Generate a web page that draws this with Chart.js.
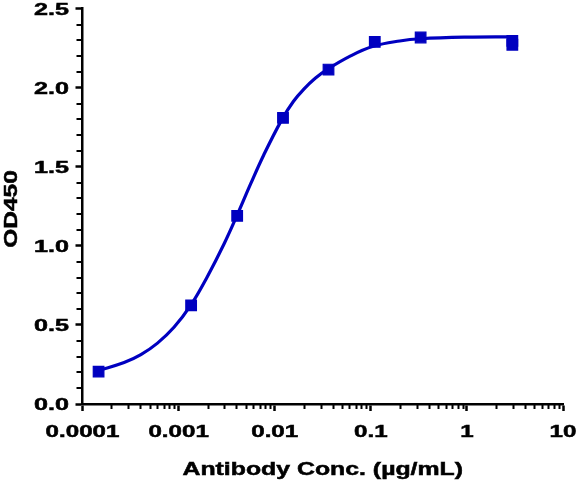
<!DOCTYPE html>
<html>
<head>
<meta charset="utf-8">
<script src="https://cdn.jsdelivr.net/npm/chart.js@4.4.1/dist/chart.umd.min.js"></script>
<style>
  html, body { margin: 0; padding: 0; background: #fff; }
  #wrap { width: 577px; height: 482px; }
</style>
</head>
<body>
<div id="wrap"><canvas id="chart"></canvas></div>
<script>
// measured points (conc in µg/mL, OD450)
const concPoints = [0.000147, 0.00135, 0.00407, 0.0122, 0.0363, 0.110, 0.330, 2.97, 2.97];
const odPoints = [0.205, 0.624, 1.19, 1.81, 2.115, 2.29, 2.318, 2.297, 2.272];

// fitted curve
const concCurve = [0.000147, 0.000271, 0.000405, 0.000603, 0.000895, 0.00134, 0.00199, 0.00296,
  0.00407, 0.0056, 0.00769, 0.0119, 0.0157, 0.020, 0.0264, 0.035, 0.061, 0.106, 0.20, 0.33, 0.99, 2.97];
const odCurve = [0.212, 0.262, 0.312, 0.385, 0.485, 0.625, 0.805, 1.01,
  1.195, 1.39, 1.575, 1.80, 1.915, 1.99, 2.06, 2.115, 2.20, 2.262, 2.296, 2.31, 2.32, 2.322];

const xTickValues = [0.0001, 0.001, 0.01, 0.1, 1, 10];
const xTickLabels = ['0.0001', '0.001', '0.01', '0.1', '1', '10'];
const yTickValues = [0, 0.5, 1, 1.5, 2, 2.5];
const yTickLabels = ['0.0', '0.5', '1.0', '1.5', '2.0', '2.5'];
const yMinorStep = 0.1;

const xTitle = 'Antibody Conc. (µg/mL)';
const yTitle = 'OD450';

const BLUE = '#0000C0';
const FONT_FAMILY = '"Liberation Sans", Arial, sans-serif';

// draws text stretched wide (and a touch heavier), like the original bold Prism font
function wideText(ctx, text, x, y, align, sx, rotate) {
  ctx.save();
  ctx.translate(x, y);
  if (rotate) ctx.rotate(-Math.PI / 2);
  ctx.scale(sx, 1);
  ctx.textAlign = align;
  ctx.textBaseline = 'alphabetic';
  ctx.fillText(text, 0, 0);
  ctx.lineWidth = 0.5;
  ctx.strokeText(text, 0, 0);
  ctx.restore();
}

const axisText = {
  id: 'axisText',
  afterDraw(chart) {
    const { ctx, chartArea, scales } = chart;
    const xs = scales.x, ys = scales.y;
    ctx.save();
    ctx.fillStyle = '#000';
    ctx.strokeStyle = '#000';

    // minor ticks
    ctx.lineWidth = 2;
    ctx.beginPath();
    for (let d = -4; d < 1; d++) {
      for (let k = 2; k <= 9; k++) {
        const px = Math.round(xs.getPixelForValue(k * Math.pow(10, d))) + 0.5;
        ctx.moveTo(px, chartArea.bottom);
        ctx.lineTo(px, chartArea.bottom + 5);
      }
    }
    for (let v = yMinorStep; v < 2.5; v += yMinorStep) {
      if (Math.abs(v / 0.5 - Math.round(v / 0.5)) < 1e-6) continue;
      const py = Math.round(ys.getPixelForValue(v));
      ctx.moveTo(chartArea.left, py);
      ctx.lineTo(chartArea.left - 6, py);
    }
    ctx.stroke();

    // tick labels
    ctx.font = 'bold 17px ' + FONT_FAMILY;
    xTickValues.forEach((v, i) => {
      wideText(ctx, xTickLabels[i], xs.getPixelForValue(v), 437, 'center', 1.42);
    });
    yTickValues.forEach((v, i) => {
      wideText(ctx, yTickLabels[i], 69, ys.getPixelForValue(v) + 6, 'right', 1.48);
    });

    // axis titles
    ctx.font = 'bold 18px ' + FONT_FAMILY;
    wideText(ctx, xTitle, (chartArea.left + chartArea.right) / 2, 475, 'center', 1.38);
    wideText(ctx, yTitle, 17, 209, 'center', 1.36, true);
    ctx.restore();
  }
};

const pointData = concPoints.map((x, i) => ({ x, y: odPoints[i] }));
const curveData = concCurve.map((x, i) => ({ x, y: odCurve[i] }));

new Chart(document.getElementById('chart'), {
  type: 'scatter',
  data: {
    datasets: [
      {
        label: 'OD450',
        data: pointData,
        showLine: false,
        pointStyle: 'rect',
        pointRadius: 7.5,
        pointBorderWidth: 1.2,
        backgroundColor: BLUE,
        borderColor: BLUE,
        clip: false,
      },
      {
        type: 'line',
        label: 'fit',
        data: curveData,
        borderColor: BLUE,
        borderWidth: 3.2,
        pointRadius: 0,
        fill: false,
        tension: 0.4,
        clip: false,
      },
    ],
  },
  plugins: [axisText],
  options: {
    responsive: true,
    maintainAspectRatio: false,
    animation: false,
    layout: {
      padding: { left: 75.5, right: 14, top: 7.5, bottom: 71 },
    },
    scales: {
      x: {
        type: 'logarithmic',
        min: 0.0001,
        max: 10,
        afterBuildTicks: (scale) => {
          scale.ticks = xTickValues.map((v) => ({ value: v }));
        },
        ticks: { display: false },
        grid: {
          display: true,
          drawOnChartArea: false,
          drawTicks: true,
          tickLength: 7,
          tickWidth: 2.5,
          tickColor: '#000',
        },
        border: { display: true, color: '#000', width: 2.5 },
      },
      y: {
        type: 'linear',
        min: 0,
        max: 2.5,
        afterBuildTicks: (scale) => {
          scale.ticks = yTickValues.map((v) => ({ value: v }));
        },
        ticks: { display: false },
        grid: {
          display: true,
          drawOnChartArea: false,
          drawTicks: true,
          tickLength: 7,
          tickWidth: 2.5,
          tickColor: '#000',
        },
        border: { display: true, color: '#000', width: 2.5 },
      },
    },
    plugins: {
      legend: { display: false },
      tooltip: { enabled: false },
    },
  },
});
</script>
</body>
</html>
